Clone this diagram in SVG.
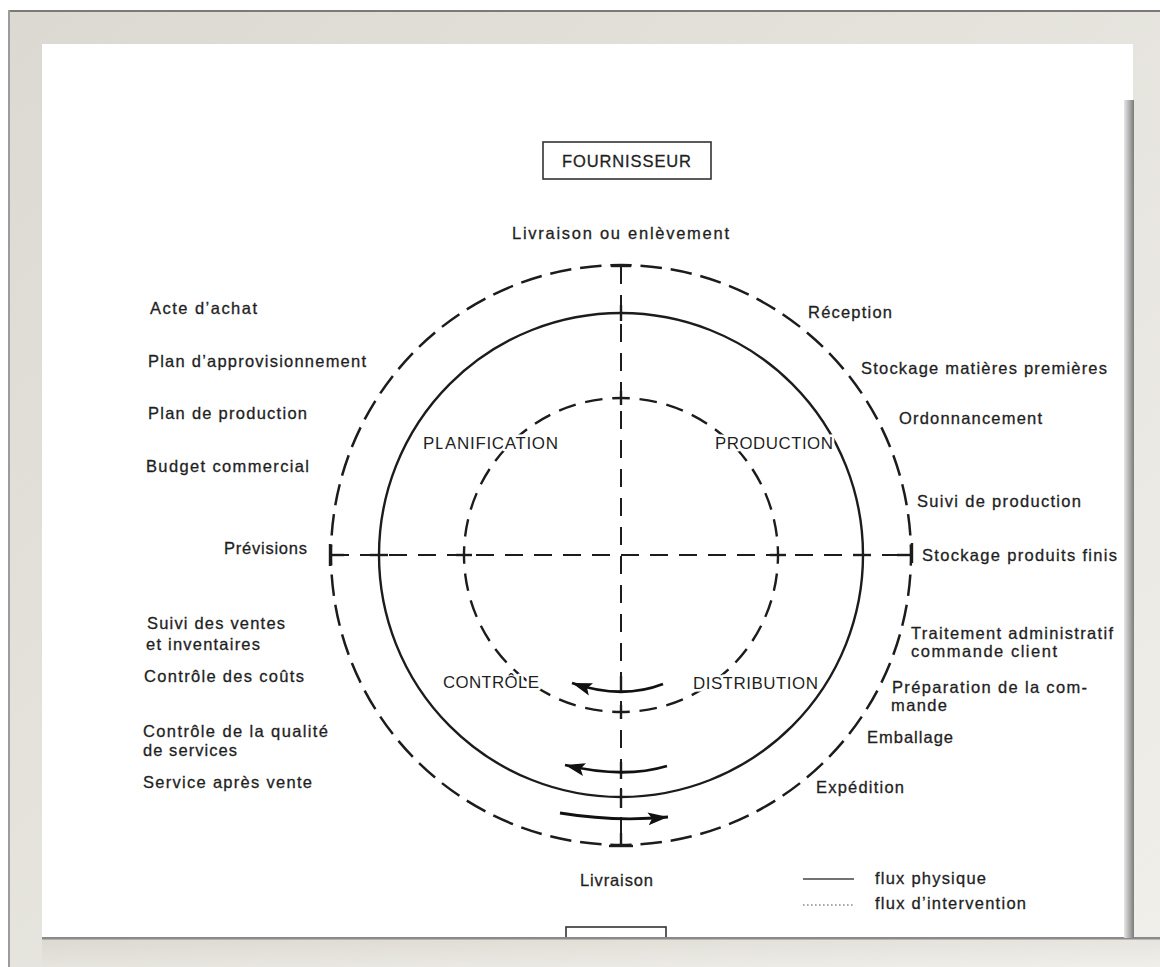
<svg xmlns="http://www.w3.org/2000/svg" width="1160" height="967" viewBox="0 0 1160 967">
  <defs>
    <linearGradient id="frameGrad" x1="0" y1="0" x2="1" y2="1">
      <stop offset="0" stop-color="#dcd9d2"/>
      <stop offset="1" stop-color="#f1efea"/>
    </linearGradient>
    <linearGradient id="shadowGrad" x1="0" y1="0" x2="1" y2="0">
      <stop offset="0" stop-color="#e6e6e6"/>
      <stop offset="0.6" stop-color="#a8a8a8"/>
      <stop offset="1" stop-color="#7a7a7a"/>
    </linearGradient>
    <marker id="ah" markerWidth="22" markerHeight="14" refX="20" refY="7" orient="auto" markerUnits="userSpaceOnUse">
      <path d="M0,0.5 L20,7 L0,13.5 L4,7 z" fill="#111"/>
    </marker>
    <style>
      .t { font-family: "Liberation Sans", Arial, sans-serif; font-size: 16.5px; fill: #1f1f1f; stroke: #1f1f1f; stroke-width: 0.3px; }
      .cap { font-family: "Liberation Sans", Arial, sans-serif; font-size: 17px; fill: #1f1f1f; stroke: #ffffff; stroke-width: 5px; paint-order: stroke; stroke-linejoin: round; }
      .ln { fill: none; stroke: #1c1c1c; stroke-width: 2.4; }
      .dOuter { fill: none; stroke: #1c1c1c; stroke-width: 2.5; stroke-dasharray: 22 9; stroke-dashoffset: 11; }
      .dInner { fill: none; stroke: #1c1c1c; stroke-width: 2.4; stroke-dasharray: 18 10; stroke-dashoffset: 9; }
      .axis { fill: none; stroke: #1c1c1c; stroke-width: 2; stroke-dasharray: 18 11; }
      .arrow { fill: none; stroke: #111; stroke-width: 2.8; marker-end: url(#ah); }
    </style>
  </defs>

  <!-- frame -->
  <g id="frame">
    <rect x="0" y="0" width="1160" height="967" fill="#ffffff"/>
    <rect x="8" y="10" width="1152" height="957" fill="url(#frameGrad)"/>
    <rect x="8" y="10" width="1152" height="2" fill="#7a7a7a"/>
    <rect x="8" y="10" width="2" height="957" fill="#9c9c9c"/>
    <rect x="42" y="44" width="1091" height="894" fill="#ffffff"/>
  </g>

  <!-- FOURNISSEUR box -->
  <g id="fournisseur">
    <rect x="543" y="142" width="168" height="37" fill="#ffffff" stroke="#333" stroke-width="1.6"/>
    <text class="t" x="562" y="167" textLength="129" lengthAdjust="spacing">FOURNISSEUR</text>
  </g>

  <!-- cycles -->
  <g id="cycles">
    <circle id="outer-cycle" cx="621" cy="555" r="290" pathLength="1860" class="dOuter"/>
    <circle id="physical-cycle" cx="621" cy="555" r="242" class="ln"/>
    <circle id="inner-cycle" cx="621" cy="555" r="157" pathLength="1008" class="dInner"/>
  </g>

  <!-- axes -->
  <g id="axes">
    <line class="axis" x1="621" y1="266" x2="621" y2="846"/>
    <line class="axis" x1="331" y1="555" x2="911" y2="555"/>
    <g class="ln" stroke-width="2">
      <line x1="611" y1="266" x2="631" y2="266"/>
      <line x1="609" y1="846" x2="633" y2="846"/>
      <line x1="621" y1="305" x2="621" y2="321"/>
      <line x1="621" y1="391" x2="621" y2="405"/>
      <line x1="621" y1="676" x2="621" y2="692"/>
      <line x1="621" y1="705" x2="621" y2="719"/>
      <line x1="621" y1="762" x2="621" y2="779"/>
      <line x1="621" y1="789" x2="621" y2="808"/>
      <line x1="621" y1="833" x2="621" y2="846"/>
      <line x1="330" y1="544" x2="330" y2="566"/>
      <line x1="912" y1="543" x2="912" y2="563"/>
      <line x1="330" y1="555" x2="344" y2="555"/>
      <line x1="370" y1="555" x2="388" y2="555"/>
      <line x1="456" y1="555" x2="472" y2="555"/>
      <line x1="770" y1="555" x2="786" y2="555"/>
      <line x1="853" y1="555" x2="871" y2="555"/>
      <line x1="897" y1="555" x2="912" y2="555"/>
    </g>
  </g>

  <!-- flow arrows -->
  <g id="connectors">
    <path class="arrow" d="M663,684 Q622,700 572,683"/>
    <path class="arrow" d="M667,766 Q624,779 565,765"/>
    <path class="arrow" d="M560,813 Q615,822 668,817"/>
  </g>

  <!-- central labels -->
  <g id="phase-planification"><text class="cap" x="423" y="449" textLength="135" lengthAdjust="spacing">PLANIFICATION</text></g>
  <g id="phase-production"><text class="cap" x="715" y="449" textLength="118" lengthAdjust="spacing">PRODUCTION</text></g>
  <g id="phase-controle"><text class="cap" x="443" y="688" textLength="96" lengthAdjust="spacing">CONTRÔLE</text></g>
  <g id="phase-distribution"><text class="cap" x="693" y="689" textLength="125" lengthAdjust="spacing">DISTRIBUTION</text></g>

  <!-- top / bottom labels -->
  <g id="label-top"><text class="t" x="512" y="239" textLength="217" lengthAdjust="spacing">Livraison ou enlèvement</text></g>
  <g id="label-bottom"><text class="t" x="580" y="886" textLength="73" lengthAdjust="spacing">Livraison</text></g>

  <!-- left labels -->
  <g id="labels-left">
    <text class="t" x="150" y="314" textLength="107" lengthAdjust="spacing">Acte d’achat</text>
    <text class="t" x="148" y="367" textLength="218" lengthAdjust="spacing">Plan d’approvisionnement</text>
    <text class="t" x="148" y="419" textLength="159" lengthAdjust="spacing">Plan de production</text>
    <text class="t" x="146" y="472" textLength="163" lengthAdjust="spacing">Budget commercial</text>
    <text class="t" x="224" y="554" textLength="83" lengthAdjust="spacing">Prévisions</text>
    <text class="t" x="147" y="629" textLength="138" lengthAdjust="spacing">Suivi des ventes</text>
    <text class="t" x="146" y="650" textLength="114" lengthAdjust="spacing">et inventaires</text>
    <text class="t" x="144" y="682" textLength="160" lengthAdjust="spacing">Contrôle des coûts</text>
    <text class="t" x="143" y="737" textLength="185" lengthAdjust="spacing">Contrôle de la qualité</text>
    <text class="t" x="143" y="756" textLength="94" lengthAdjust="spacing">de services</text>
    <text class="t" x="143" y="788" textLength="169" lengthAdjust="spacing">Service après vente</text>
  </g>

  <!-- right labels -->
  <g id="labels-right">
    <text class="t" x="808" y="318" textLength="84" lengthAdjust="spacing">Réception</text>
    <text class="t" x="861" y="374" textLength="246" lengthAdjust="spacing">Stockage matières premières</text>
    <text class="t" x="899" y="424" textLength="143" lengthAdjust="spacing">Ordonnancement</text>
    <text class="t" x="917" y="507" textLength="164" lengthAdjust="spacing">Suivi de production</text>
    <text class="t" x="922" y="561" textLength="195" lengthAdjust="spacing">Stockage produits finis</text>
    <text class="t" x="911" y="639" textLength="202" lengthAdjust="spacing">Traitement administratif</text>
    <text class="t" x="911" y="657" textLength="146" lengthAdjust="spacing">commande client</text>
    <text class="t" x="892" y="693" textLength="195" lengthAdjust="spacing">Préparation de la com-</text>
    <text class="t" x="891" y="711" textLength="56" lengthAdjust="spacing">mande</text>
    <text class="t" x="867" y="743" textLength="86" lengthAdjust="spacing">Emballage</text>
    <text class="t" x="816" y="793" textLength="88" lengthAdjust="spacing">Expédition</text>
  </g>

  <!-- legend -->
  <g id="legend">
    <line x1="803" y1="879" x2="854" y2="879" stroke="#444" stroke-width="1.3"/>
    <text class="t" x="875" y="884" textLength="111" lengthAdjust="spacing">flux physique</text>
    <line x1="803" y1="905" x2="854" y2="905" stroke="#555" stroke-width="1.1" stroke-dasharray="1.6 2.4"/>
    <text class="t" x="875" y="909" textLength="151" lengthAdjust="spacing">flux d’intervention</text>
  </g>

  <!-- cut-off client box at bottom -->
  <g id="client-box">
    <rect x="566" y="927" width="100" height="24" fill="#ffffff" stroke="#333" stroke-width="1.6"/>
  </g>

  <!-- frame bottom & right edge (drawn over) -->
  <g id="frame-edges">
    <rect x="42" y="939" width="1118" height="28" fill="url(#frameGrad)"/>
    <rect x="42" y="937" width="1118" height="2.5" fill="#8a8a8a"/>
    <rect x="1124" y="100" width="10" height="838" fill="url(#shadowGrad)"/>
  </g>
</svg>
